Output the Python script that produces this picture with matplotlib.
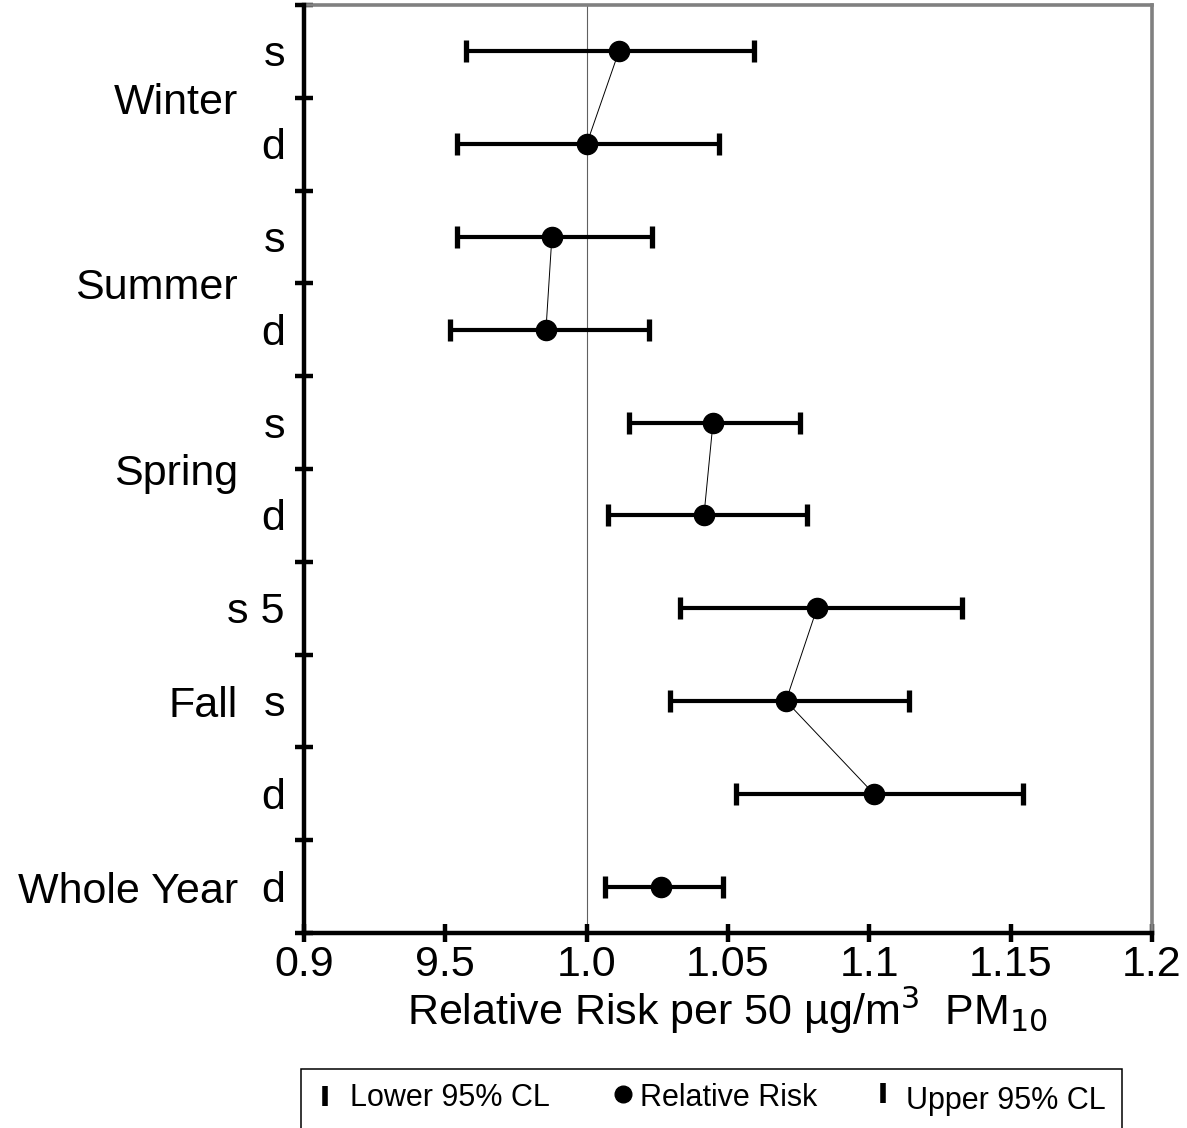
import numpy as np
import matplotlib.pyplot as plt
from matplotlib.lines import Line2D
from matplotlib.patches import Rectangle

plt.rcParams['font.family'] = ['Liberation Sans', 'DejaVu Sans']

# rows from top to bottom
row_labels = ['s', 'd', 's', 'd', 's', 'd', 's 5', 's', 'd', 'd']
groups = ['Winter', 'Summer', 'Spring', 'Fall', 'Whole Year']
group_rows = [[0, 1], [2, 3], [4, 5], [6, 7, 8], [9]]
group_label_pos = [0.5, 2.5, 4.5, 7, 9]  # row index where group name sits

rr = [1.0114, 1.0000, 0.9877, 0.9856, 1.0447, 1.0415, 1.0815, 1.0705, 1.1016, 1.0263]
lower = [0.9573, 0.9541, 0.9540, 0.9516, 1.0150, 1.0075, 1.0330, 1.0295, 1.0528, 1.0065]
upper = [1.0592, 1.0468, 1.0231, 1.0220, 1.0755, 1.0780, 1.1328, 1.1140, 1.1544, 1.0482]

xticks = [0.9, 0.95, 1.0, 1.05, 1.1, 1.15, 1.2]
xtick_labels = ['0.9', '9.5', '1.0', '1.05', '1.1', '1.15', '1.2']

legend_labels = ['Lower 95% CL', 'Relative Risk', 'Upper 95% CL']

W, H = 1187, 1128
n = len(rr)
ypos = np.array([n - 0.5 - i for i in range(n)])

fig = plt.figure(figsize=(W / 100, H / 100), dpi=100)
ax = fig.add_axes([0.2561, 0.1729, 0.7144, 0.8227])

ax.axvline(1.0, color='#606060', lw=0.8, zorder=1)

# connecting lines inside groups
for rows in group_rows:
    if len(rows) > 1:
        ax.plot([rr[i] for i in rows], ypos[rows], color='black', lw=0.7, zorder=2)

rr_a = np.array(rr)
ax.errorbar(rr_a, ypos, xerr=[rr_a - np.array(lower), np.array(upper) - rr_a],
            fmt='none', ecolor='black', elinewidth=3, capsize=0, zorder=3)
ax.plot(lower, ypos, linestyle='none', marker='|', markersize=16, mew=3.8,
        color='black', zorder=3)
ax.plot(upper, ypos, linestyle='none', marker='|', markersize=16, mew=3.8,
        color='black', zorder=3)
ax.plot(rr, ypos, linestyle='none', marker='o', markersize=14.5, color='black', zorder=4)

ax.set_xlim(0.9, 1.2)
ax.set_ylim(0, n)
ax.set_xticks(xticks)
ax.set_xticklabels(xtick_labels, fontsize=31)
ax.set_yticks(np.arange(0, n + 1))
ax.set_yticklabels([])
ax.tick_params(axis='both', direction='inout', length=13, width=3.2, color='black')
ax.tick_params(axis='x', pad=2)

for side in ['left', 'bottom']:
    ax.spines[side].set_linewidth(3.2)
    ax.spines[side].set_color('black')
    ax.spines[side].set_zorder(5)
for side in ['top', 'right']:
    ax.spines[side].set_linewidth(2.6)
    ax.spines[side].set_color('#808080')

trans = ax.get_yaxis_transform()
for lab, y in zip(row_labels, ypos):
    ax.annotate(lab, xy=(0, y), xycoords=trans, xytext=(-19, -15), textcoords='offset pixels',
                ha='right', va='baseline', fontsize=31)
for g, r in zip(groups, group_label_pos):
    ax.annotate(g, xy=(0, n - 0.5 - r), xycoords=trans, xytext=(-66, -16),
                textcoords='offset pixels', ha='right', va='baseline', fontsize=31)

ax.set_xlabel(r'Relative Risk per 50 µg/m$^3$  PM$_{10}$', fontsize=31, labelpad=0)

# legend box drawn below the axes
def fx(px):
    return px / W

def fy(py):
    return 1 - py / H

fig.add_artist(Rectangle((fx(301), fy(1140)), fx(1122) - fx(301), fy(1069) - fy(1140),
                         transform=fig.transFigure, fill=False, edgecolor='black', lw=1.1))
marker_x = [325, 623, 883]
marker_y = [1096, 1094, 1093]
text_x = [350, 640, 906]
text_y = [1106, 1106, 1109]
markers = ['|', 'o', '|']
for lab, mx, my, tx, ty, mk in zip(legend_labels, marker_x, marker_y, text_x, text_y, markers):
    if mk == 'o':
        fig.add_artist(Line2D([fx(mx)], [fy(my)], marker='o', markersize=12, color='black',
                              linestyle='none', transform=fig.transFigure))
    else:
        fig.add_artist(Line2D([fx(mx)], [fy(my)], marker='|', markersize=14, mew=4,
                              color='black', linestyle='none', transform=fig.transFigure))
    fig.text(fx(tx), fy(ty), lab, fontsize=22, ha='left', va='baseline')

fig.savefig('out.png', dpi=100)
